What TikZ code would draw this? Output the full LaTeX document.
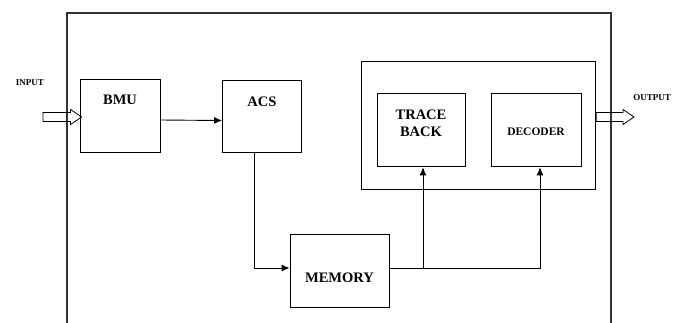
\documentclass[tikz,border=0pt]{standalone}
\usepackage{fontspec}
\setmainfont{Liberation Serif}
\usepackage{tikz}
\usetikzlibrary{arrows.meta, positioning, calc}

\tikzset{
	blk/.style={draw, line width=0.9pt, inner sep=0pt},
	txt/.style={font=\fontsize{14.5}{16.5}\selectfont\bfseries, align=center},
	sml/.style={font=\fontsize{9}{10}\selectfont\bfseries},
	flow/.style={line width=0.9pt, -{Latex[length=8pt,width=7pt]}},
	% 空心箭头
	hollow/.style={line width=0.8pt, line join=miter,
		to path={($(\tikztostart)+(0,-4.5)$) -- ($(\tikztotarget)+(-11,-4.5)$)
			-- ($(\tikztotarget)+(-11,-7.5)$) -- (\tikztotarget)
			-- ($(\tikztotarget)+(-11,7.5)$) -- ($(\tikztotarget)+(-11,4.5)$)
			-- ($(\tikztostart)+(0,4.5)$) -- cycle}}
}

\begin{document}
\begin{tikzpicture}[x=1pt, y=-1pt]
	\useasboundingbox (0,0) rectangle (680,322);
	% 外框
	\draw[line width=1.2pt, black!80] (67,330) -- (67,13) -- (611,13) -- (611,330);
	% 模块
	\node[blk, minimum width=80pt, minimum height=73pt,
		label={[txt, yshift=15.5pt]center:BMU}] (bmu) at (120,115.5) {};
	\node[blk, minimum width=79pt, minimum height=72pt,
		label={[txt, yshift=14pt]center:ACS}] (acs) at (262,116) {};
	\node[blk, minimum width=99pt, minimum height=73pt,
		label={[txt, yshift=-7.5pt]center:MEMORY}] (mem) at (339.5,270.5) {};
	\node[blk, minimum width=234pt, minimum height=127.6pt] (unit) at (478.7,125.5) {};
	\node[blk, minimum width=88pt, minimum height=73.7pt,
		label={[txt, yshift=6.5pt]center:TRACE\\BACK}] (tb) at (421,130) {};
	\node[blk, minimum width=90pt, minimum height=73.7pt,
		label={[txt, font=\fontsize{11.5}{13}\selectfont\bfseries, yshift=-2pt]center:DECODER}] (dec) at (536,130) {};
	% 输入输出
	\node[sml] (inlbl) at (30,83) {INPUT};
	\node[sml] (outlbl) at (652,98) {OUTPUT};
	\coordinate (in) at (43,117);
	\coordinate (out) at (634,117);
	\draw[hollow] (in) to ($(in -| bmu.west)+(2,0)$);
	\draw[hollow] (out -| unit.east) to (out);
	% 连线
	\draw[flow] ([yshift=-4.5pt]bmu.east) -- ([yshift=-4.5pt]acs.west);
	\draw[flow] ([xshift=-8pt]acs.south) |- ([yshift=2.5pt]mem.west);
	\draw[flow] ([yshift=2.5pt]mem.east) -| ([xshift=4pt]dec.south);
	\draw[flow] ([yshift=2.5pt]mem.east -| tb.south) ++(2pt,0) -- ([xshift=2pt]tb.south);
\end{tikzpicture}
\end{document}
